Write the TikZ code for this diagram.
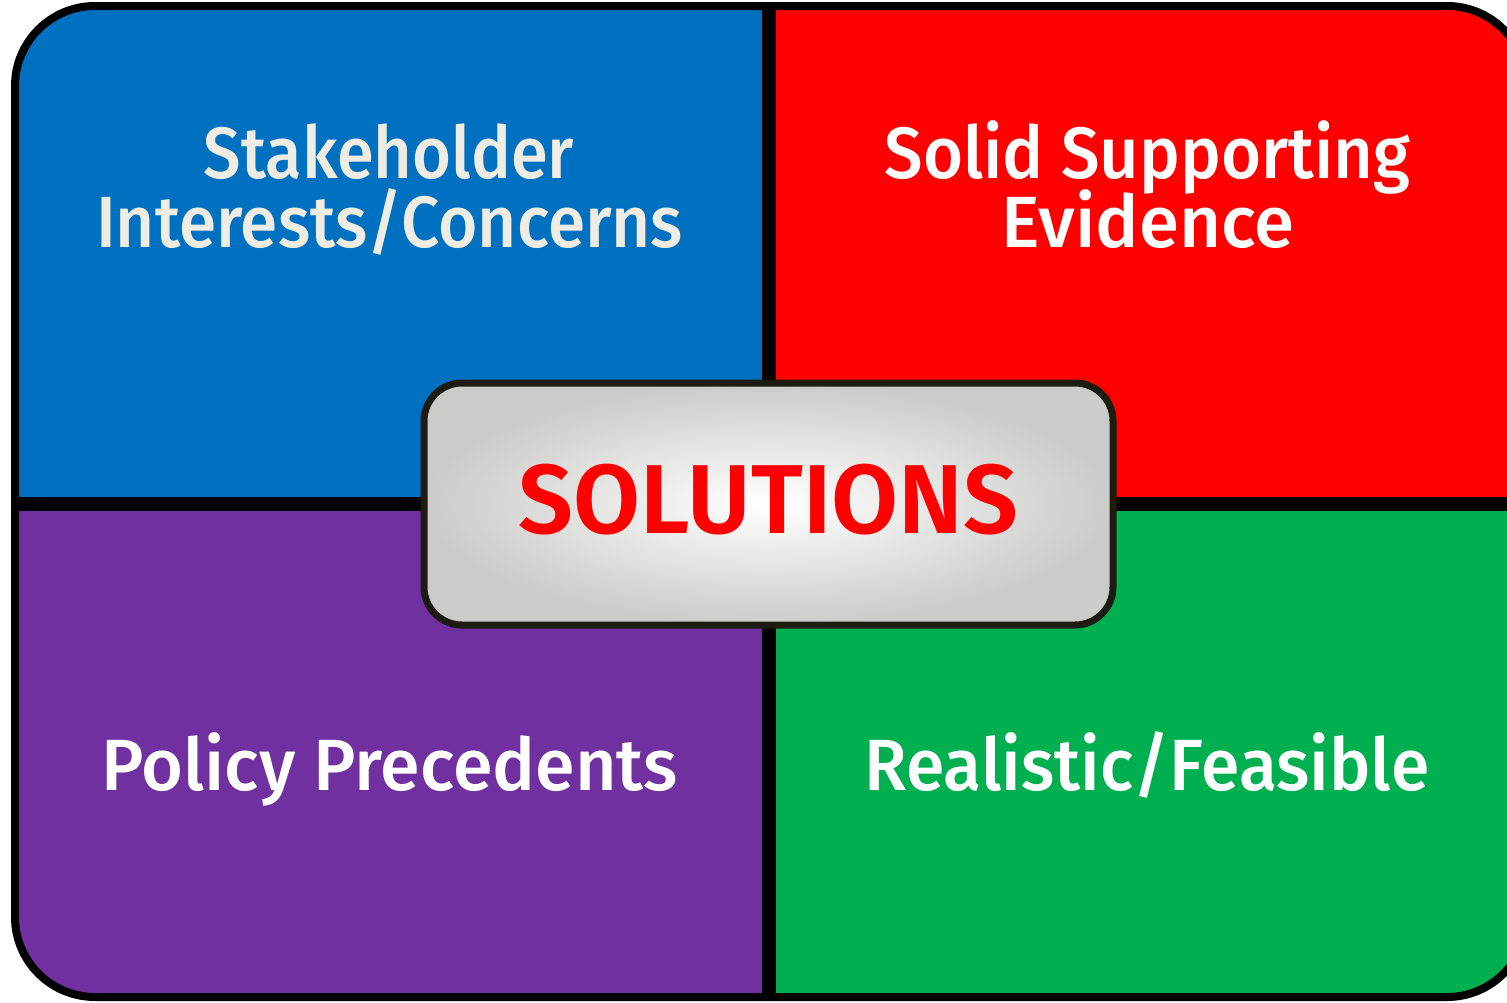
\documentclass[tikz,border=0pt]{standalone}
\usepackage{fontspec}
\newfontfamily\labelfont{Fira Sans Medium}
\newfontfamily\titlefont{Fira Sans SemiBold}
\definecolor{qblue}{HTML}{0070C0}
\definecolor{qred}{HTML}{FF0000}
\definecolor{qpurple}{HTML}{7030A0}
\definecolor{qgreen}{HTML}{00B050}
\definecolor{offwhite}{HTML}{EFECE4}
\definecolor{boxedge}{HTML}{1C1C12}
\definecolor{boxgray}{HTML}{CBCBC8}
\tikzset{
  lbl/.style={anchor=base, inner sep=0pt, font=\labelfont\fontsize{72.6}{80}\selectfont, text=white},
  ttl/.style={anchor=base, inner sep=0pt, font=\titlefont\fontsize{98}{110}\selectfont, text=qred},
  divider/.style={line width=14pt, black},
  outerframe/.style={line width=8pt, black, rounded corners=80pt},
  centerbox/.style={line width=7pt, draw=boxedge, rounded corners=38pt}
}
\begin{document}
\begin{tikzpicture}[x=1pt,y=-1pt]
\useasboundingbox (0,0) rectangle (1507,1002);
\begin{scope}
  \clip[rounded corners=80pt] (15,6) rectangle (1527,997);
  \fill[qblue] (0,0) rectangle (769,504);
  \fill[qred] (769,0) rectangle (1540,504);
  \fill[qpurple] (0,504) rectangle (769,1010);
  \fill[qgreen] (769,504) rectangle (1540,1010);
  \draw[divider] (769,0) -- (769,1010);
  \draw[divider] (0,504) -- (1540,504);
\end{scope}
\draw[outerframe] (15,6) rectangle (1527,997);
\shade[centerbox, inner color=white, outer color=boxgray] (424,383) rectangle (1113,625);
\node[lbl, text=offwhite] (s1) at (389,178) {\scalebox{0.92}[1]{Stakeholder}};
\node[lbl, text=offwhite] (s2) at (389.5,247) {\scalebox{0.93}[1]{Interests/Concerns}};
\node[lbl] (e1) at (1147.5,178) {\scalebox{0.946}[1]{Solid Supporting}};
\node[lbl] (e2) at (1148,247) {Evidence};
\node[lbl] (p1) at (389.5,790) {\scalebox{0.99}[1]{Policy Precedents}};
\node[lbl] (r1) at (1147,790) {\scalebox{0.96}[1]{Realistic/Feasible}};
\node[ttl] (sol) at (768.5,533) {\scalebox{0.99}[1]{SOLUTIONS}};
\end{tikzpicture}
\end{document}
